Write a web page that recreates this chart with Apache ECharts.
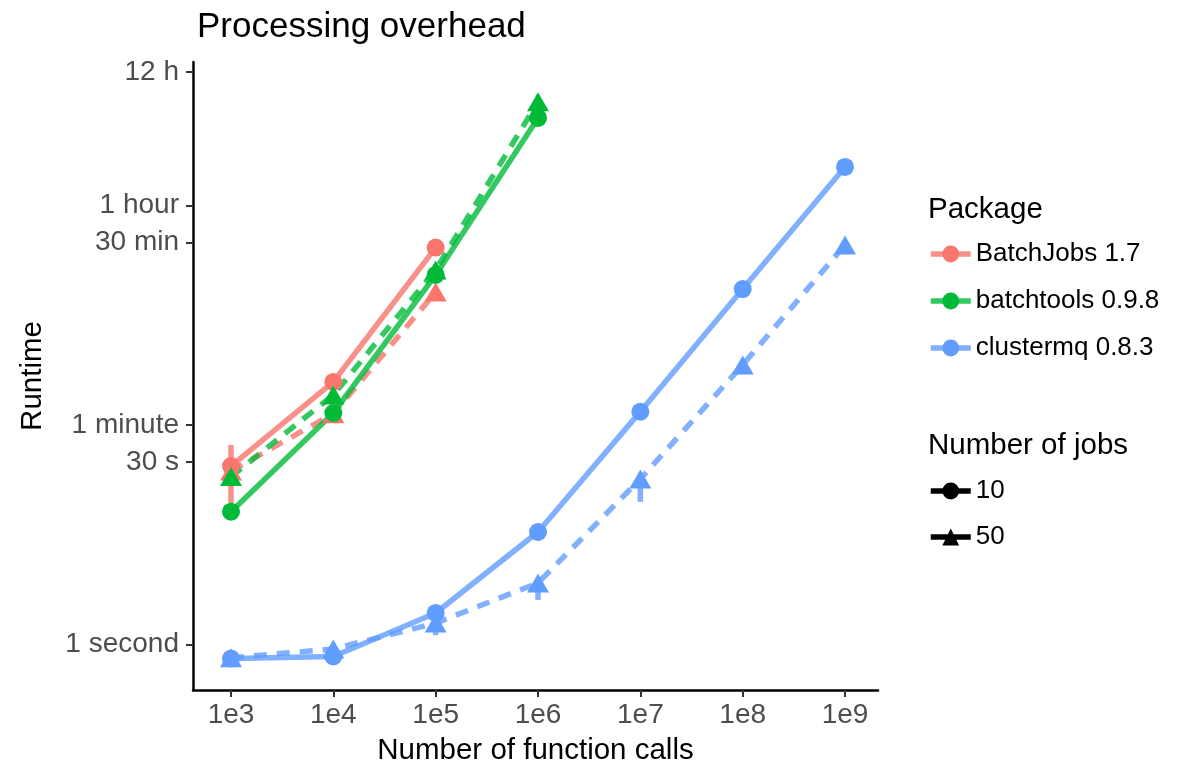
<!DOCTYPE html>
<html>
<head>
<meta charset="utf-8">
<script src="https://cdn.jsdelivr.net/npm/echarts@6/dist/echarts.min.js"></script>
<style>
html,body{margin:0;padding:0;background:#fff;}
#chart{width:1180px;height:767px;}
</style>
</head>
<body>
<div id="chart"></div>
<script>
// ---- data (runtime in seconds) ----
const calls = [1e3, 1e4, 1e5, 1e6, 1e7, 1e8, 1e9];
const packages = ['BatchJobs 1.7', 'batchtools 0.9.8', 'clustermq 0.8.3'];
const jobs = ['10', '50'];
const batchjobs10 = [27.9, 134, 1640];
const batchjobs50 = [25.4, 74, 716];
const batchtools10 = [11.9, 75, 984, 18400];
const batchtools50 = [22.9, 105, 1080, 24900];
const clustermq10 = [0.77, 0.80, 1.80, 8.15, 76.9, 757, 7380];
const clustermq50 = [0.78, 0.92, 1.49, 3.15, 21.9, 184, 1722];
// visible error ranges
const errCalls = [1e3, 1e5, 1e6, 1e7];
const errLow = [14.0, 1.19, 2.29, 14.3];
const errHigh = [41.3, 1.6, 3.3, 22];
const errPackage = [0, 2, 2, 2];
// tick labels
const xTickValues = [1e3, 1e4, 1e5, 1e6, 1e7, 1e8, 1e9];
const xTickLabels = ['1e3', '1e4', '1e5', '1e6', '1e7', '1e8', '1e9'];
const yTickValues = [1, 30, 60, 1800, 3600, 43200];
const yTickLabels = ['1 second', '30 s', '1 minute', '30 min', '1 hour', '12 h'];

const colors = ['#F8766D', '#00BA38', '#619CFF'];
const FONT = '"Liberation Sans", Arial, Helvetica, sans-serif';

function pairs(vals) { return vals.map((v, i) => [calls[i], v]); }

function lineSeries(name, vals, color, dashed) {
  return {
    type: 'line', name: name, data: pairs(vals),
    symbol: dashed ? 'triangle' : 'circle',
    symbolSize: dashed ? [22, 19] : 18,
    lineStyle: { color: color, width: 5.5, opacity: 0.8, type: dashed ? [13, 10] : 'solid' },
    itemStyle: { color: color, opacity: 1 },
    emphasis: { disabled: true },
    animation: false, z: 3
  };
}

const errData = errCalls.map((c, i) => [c, errLow[i], errHigh[i], errPackage[i]]);

const chart = echarts.init(document.getElementById('chart'), null, { renderer: 'canvas' });
chart.setOption({
  backgroundColor: '#fff',
  animation: false,
  textStyle: { fontFamily: FONT },
  title: [
    { text: 'Processing overhead', left: 192, top: 5,
      textStyle: { fontFamily: FONT, fontSize: 35, fontWeight: 'normal', color: '#000' } },
    { text: 'Package', left: 923, top: 190,
      textStyle: { fontFamily: FONT, fontSize: 29.5, fontWeight: 'normal', color: '#000' } },
    { text: 'Number of jobs', left: 923, top: 426,
      textStyle: { fontFamily: FONT, fontSize: 29.5, fontWeight: 'normal', color: '#000' } }
  ],
  legend: [
    { data: packages, orient: 'vertical', left: 928, top: 241, padding: 0,
      itemWidth: 40, itemHeight: 21, itemGap: 21, itemTextGap: 7, selectedMode: false,
      lineStyle: { width: 5.5 },
      textStyle: { fontFamily: FONT, fontSize: 26, color: '#000' } },
    { data: jobs, orient: 'vertical', left: 928, top: 478, padding: 0,
      itemWidth: 40, itemHeight: 21, itemGap: 20, itemTextGap: 7, selectedMode: false,
      lineStyle: { width: 5.5 },
      textStyle: { fontFamily: FONT, fontSize: 26, color: '#000' } }
  ],
  grid: { left: 193, right: 302, top: 62, bottom: 77, containLabel: false, outerBoundsMode: 'none' },
  xAxis: {
    type: 'log', logBase: 10, min: 425.4, max: 2.1e9,
    name: 'Number of function calls', nameLocation: 'middle', nameGap: 46,
    nameTextStyle: { fontFamily: FONT, fontSize: 29.5, color: '#000' },
    axisLine: { show: true, lineStyle: { color: '#000', width: 2.5 } },
    axisTick: { show: true, length: 7, lineStyle: { color: '#333', width: 2 }, customValues: xTickValues },
    axisLabel: { fontFamily: FONT, fontSize: 28, color: '#4D4D4D', margin: 11,
      customValues: xTickValues,
      formatter: v => { const i = xTickValues.findIndex(t => Math.abs(t - v) / t < 1e-6); return i >= 0 ? xTickLabels[i] : ''; } },
    splitLine: { show: false }, minorTick: { show: false }
  },
  yAxis: {
    type: 'log', logBase: 10, min: 0.428, max: 52240,
    name: 'Runtime', nameLocation: 'middle', nameGap: 145,
    nameTextStyle: { fontFamily: FONT, fontSize: 29.5, color: '#000' },
    axisLine: { show: true, lineStyle: { color: '#000', width: 2.5 } },
    axisTick: { show: true, length: 7, lineStyle: { color: '#333', width: 2 }, customValues: yTickValues },
    axisLabel: { fontFamily: FONT, fontSize: 28, color: '#4D4D4D', margin: 14,
      customValues: yTickValues,
      formatter: v => { const i = yTickValues.findIndex(t => Math.abs(t - v) / t < 1e-6); return i >= 0 ? yTickLabels[i] : ''; } },
    splitLine: { show: false }, minorTick: { show: false }
  },
  series: [
    {
      type: 'custom', name: 'range', data: errData, z: 2, animation: false, silent: true,
      encode: { x: 0, y: [1, 2] },
      renderItem: (params, api) => {
        const p1 = api.coord([api.value(0), api.value(1)]);
        const p2 = api.coord([api.value(0), api.value(2)]);
        return { type: 'line', shape: { x1: p1[0], y1: p1[1], x2: p2[0], y2: p2[1] },
          style: { stroke: colors[api.value(3)], lineWidth: 5.5, opacity: 0.8 } };
      }
    },
    lineSeries(packages[0], batchjobs10, colors[0], false),
    lineSeries(packages[0], batchjobs50, colors[0], true),
    lineSeries(packages[1], batchtools10, colors[1], false),
    lineSeries(packages[1], batchtools50, colors[1], true),
    lineSeries(packages[2], clustermq10, colors[2], false),
    lineSeries(packages[2], clustermq50, colors[2], true),
    { type: 'line', name: jobs[0], data: [], symbol: 'circle', symbolSize: 18,
      lineStyle: { color: '#000', width: 5 }, itemStyle: { color: '#000' } },
    { type: 'line', name: jobs[1], data: [], symbol: 'triangle', symbolSize: [22, 19],
      lineStyle: { color: '#000', width: 5 }, itemStyle: { color: '#000' } }
  ]
});
</script>
</body>
</html>
